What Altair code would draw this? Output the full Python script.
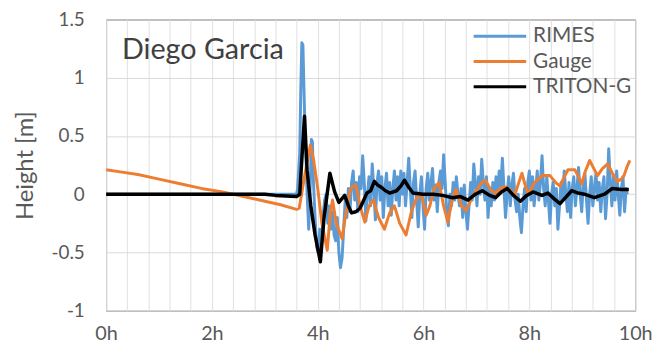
import altair as alt
import pandas as pd

# ---------------- data ----------------
series_names = ["RIMES", "Gauge", "TRITON-G"]
series_colors = ["#5B9BD5", "#ED7D31", "#000000"]
title_text = "Diego Garcia"

rimes_t = [0.0, 3.60, 3.62, 3.66, 3.68, 3.70, 3.72, 3.74, 3.76, 3.78, 3.80, 3.83, 3.86, 3.88, 3.90,
           3.92, 3.95, 3.98, 4.01, 4.04, 4.07, 4.10, 4.13, 4.16, 4.19, 4.22, 4.25, 4.28, 4.31,
           4.34, 4.37, 4.40, 4.43, 4.46, 4.49, 4.52, 4.55, 4.58, 4.61, 4.64, 4.67, 4.70, 4.73,
           4.76, 4.79, 4.82, 4.85, 4.88, 4.91, 4.94, 4.97, 5.00, 5.03, 5.06, 5.09, 5.12, 5.15,
           5.18, 5.21, 5.24, 5.27, 5.30, 5.33, 5.36, 5.39, 5.42, 5.45, 5.48, 5.51, 5.54, 5.57,
           5.60, 5.63, 5.66, 5.69, 5.72, 5.75, 5.78, 5.81, 5.84, 5.87, 5.90, 5.93, 5.96, 5.99,
           6.02, 6.05, 6.08, 6.11, 6.14, 6.17, 6.20, 6.23, 6.26, 6.29, 6.32, 6.35, 6.38, 6.41,
           6.44, 6.47, 6.50, 6.53, 6.56, 6.59, 6.62, 6.65, 6.68, 6.71, 6.74, 6.77, 6.80, 6.83,
           6.86, 6.89, 6.92, 6.95, 6.98, 7.01, 7.04, 7.07, 7.10, 7.13, 7.16, 7.19, 7.22, 7.25,
           7.28, 7.31, 7.34, 7.37, 7.40, 7.43, 7.46, 7.49, 7.52, 7.55, 7.58, 7.61, 7.64, 7.67,
           7.70, 7.73, 7.76, 7.79, 7.82, 7.85, 7.88, 7.91, 7.94, 7.97, 8.00, 8.03, 8.06, 8.09,
           8.12, 8.15, 8.18, 8.21, 8.24, 8.27, 8.30, 8.33, 8.36, 8.39, 8.42, 8.45, 8.48, 8.51,
           8.54, 8.57, 8.60, 8.63, 8.66, 8.69, 8.72, 8.75, 8.78, 8.81, 8.84, 8.87, 8.90, 8.93,
           8.96, 8.99, 9.02, 9.05, 9.08, 9.11, 9.14, 9.17, 9.20, 9.23, 9.26, 9.29, 9.32, 9.35,
           9.38, 9.41, 9.44, 9.47, 9.50, 9.53, 9.56, 9.59, 9.62, 9.65, 9.68, 9.71, 9.74, 9.77,
           9.80, 9.83, 9.85]
rimes_v = [0.0, 0.0, 0.05, 0.35, 0.90, 1.30, 1.28, 0.90, 0.55, 0.30, 0.0, -0.30, 0.10, 0.47, 0.45,
           0.10, -0.20, -0.45, -0.50, -0.30, -0.45, -0.20, -0.05, 0.0, -0.25, -0.10, -0.30, -0.15, -0.35,
           -0.40, -0.20, -0.50, -0.63, -0.55, -0.30, -0.05, -0.20, 0.05, -0.15, 0.10, 0.20, -0.05, 0.10,
           -0.15, 0.15, 0.05, 0.33, 0.10, -0.23, 0.0, 0.15, -0.10, 0.26, 0.05, -0.22, 0.10, 0.20,
           -0.05, 0.15, -0.20, 0.05, 0.18, -0.10, 0.10, -0.18, 0.05, 0.20, -0.05, 0.15, -0.10, 0.20,
           0.0, 0.18, -0.10, 0.10, 0.31, 0.05, -0.20, 0.10, 0.20, -0.05, -0.28, 0.0, 0.15, -0.10,
           -0.30, 0.05, 0.18, -0.05, 0.10, 0.22, -0.05, 0.08, -0.15, 0.10, 0.20, 0.05, 0.34, 0.10,
           -0.17, -0.27, 0.0, -0.10, 0.10, -0.05, 0.15, 0.0, -0.10, 0.05, -0.20, 0.08, -0.15, -0.30,
           -0.10, 0.10, -0.05, 0.26, 0.10, -0.10, 0.15, 0.0, 0.30, 0.10, -0.05, 0.15, -0.20, 0.05,
           -0.10, 0.10, -0.05, 0.15, 0.0, 0.20, 0.05, 0.31, 0.05, -0.20, 0.0, 0.15, -0.10, 0.08,
           0.18, -0.05, -0.15, 0.0, -0.20, -0.33, -0.10, 0.05, -0.15, 0.10, 0.20, -0.05, 0.15, -0.10,
           0.05, 0.20, -0.05, 0.10, 0.33, 0.05, -0.10, 0.15, -0.05, -0.25, 0.0, 0.10, -0.10, 0.05,
           -0.30, -0.10, 0.10, -0.05, 0.20, 0.0, -0.15, 0.10, -0.20, 0.05, 0.15, -0.10, 0.05, 0.23,
           0.0, -0.15, 0.10, 0.18, -0.05, -0.25, 0.0, 0.15, -0.10, 0.05, 0.18, -0.05, 0.10, -0.15,
           0.05, 0.15, -0.21, 0.0, 0.39, 0.10, -0.10, 0.15, -0.05, 0.20, 0.0, -0.18, 0.05, 0.15,
           -0.15, 0.05, 0.0]

gauge_t = [0.0, 0.3, 0.6, 1.0, 1.4, 1.8, 2.2, 2.6, 3.0, 3.3, 3.6, 3.65, 3.75, 3.86, 3.92, 4.0,
           4.08, 4.18, 4.24, 4.28, 4.35, 4.46, 4.52, 4.62, 4.72, 4.80, 4.89, 4.97, 5.05, 5.15,
           5.26, 5.36, 5.45, 5.55, 5.67, 5.77, 5.86, 5.96, 6.05, 6.12, 6.20, 6.29, 6.38, 6.46,
           6.54, 6.61, 6.72, 6.80, 6.95, 7.10, 7.17, 7.28, 7.36, 7.48, 7.58, 7.67, 7.73, 7.80,
           7.86, 7.92, 7.98, 8.10, 8.24, 8.39, 8.50, 8.58, 8.66, 8.73, 8.86, 8.93, 8.99, 9.06,
           9.14, 9.22, 9.29, 9.38, 9.48, 9.57, 9.66, 9.74, 9.79, 9.85, 9.90]
gauge_v = [0.21, 0.19, 0.17, 0.13, 0.09, 0.05, 0.02, -0.02, -0.06, -0.09, -0.13, -0.12, 0.15, 0.42, 0.30, 0.05,
           -0.25, -0.48, -0.15, -0.05, -0.25, -0.38, -0.20, 0.05, 0.08, -0.10, -0.24, -0.10, -0.05, -0.20,
           -0.30, -0.16, -0.10, -0.25, -0.35, -0.15, -0.04, 0.0, -0.18, -0.10, 0.05, 0.10, -0.10, -0.24,
           -0.05, 0.04, -0.10, -0.14, 0.0, 0.10, 0.12, 0.03, 0.01, 0.06, 0.06, 0.02, 0.0, 0.10,
           0.18, 0.08, 0.0, 0.10, 0.16, 0.16, 0.10, 0.07, 0.15, 0.21, 0.21, 0.15, 0.09, 0.20,
           0.29, 0.22, 0.16, 0.22, 0.26, 0.18, 0.11, 0.13, 0.16, 0.24, 0.29]

triton_t = [0.0, 3.0, 3.2, 3.6, 3.66, 3.70, 3.75, 3.80, 3.87, 3.95, 4.05, 4.12, 4.23, 4.32, 4.40,
            4.51, 4.58, 4.64, 4.72, 4.80, 4.88, 4.93, 5.00, 5.07, 5.13, 5.20, 5.28, 5.36, 5.49,
            5.57, 5.64, 5.72, 5.80, 5.99, 6.18, 6.36, 6.55, 6.70, 6.84, 6.98, 7.11, 7.25, 7.36,
            7.47, 7.58, 7.70, 7.83, 7.95, 8.07, 8.24, 8.35, 8.47, 8.58, 8.70, 8.80, 8.92, 9.04,
            9.23, 9.42, 9.57, 9.74, 9.88]
triton_v = [0.0, 0.0, -0.01, -0.02, 0.0, 0.30, 0.67, 0.20, -0.10, -0.35, -0.58, -0.20, 0.18, 0.02, -0.07,
            -0.01, -0.10, -0.16, -0.15, -0.12, -0.04, 0.01, 0.03, 0.11, 0.08, 0.06, 0.03, 0.01, 0.03,
            0.07, 0.12, 0.06, 0.01, 0.0, 0.0, -0.01, -0.03, -0.02, -0.05, 0.0, 0.03, -0.01, -0.03,
            0.02, 0.05, -0.01, -0.06, -0.01, 0.02, -0.01, 0.01, -0.04, -0.08, -0.02, 0.03, 0.01, 0.0,
            -0.03, 0.0, 0.05, 0.04, 0.04]

y_ticks = [-1, -0.5, 0, 0.5, 1, 1.5]
x_grid = [round(0.4 * i, 1) for i in range(26)]

FONT = "Lato"
TXT = "#595959"

# ---------------- chart ----------------
frames = [
    pd.DataFrame({"t": rimes_t, "v": rimes_v}),
    pd.DataFrame({"t": gauge_t, "v": gauge_v}),
    pd.DataFrame({"t": triton_t, "v": triton_v}),
]
widths = [3, 3, 3.5]

x_enc = alt.X(
    "t:Q",
    scale=alt.Scale(domain=[0, 10], nice=False, zero=False),
    axis=alt.Axis(
        values=x_grid, grid=True, gridColor="#E0E0E0", gridWidth=1,
        ticks=False, domain=False, labelOverlap=False, labelFlush=False,
        labelExpr="abs(datum.value % 2) < 0.01 ? format(datum.value, 'd') + 'h' : ''",
        labelPadding=13, labelFontSize=20, title=None,
    ),
)
y_enc = alt.Y(
    "v:Q",
    scale=alt.Scale(domain=[-1, 1.5], nice=False, zero=False),
    axis=alt.Axis(
        values=y_ticks, grid=True, gridColor="#D9D9D9", gridWidth=1,
        ticks=False, domain=False, labelExpr="toString(datum.value)",
        labelPadding=22, labelFontSize=19,
        title="Height [m]", titleX=-81, titleBaseline="middle",
    ),
)

layers = []
for df, name, col, w in zip(frames, series_names, series_colors, widths):
    layers.append(
        alt.Chart(df).mark_line(color=col, strokeWidth=w, strokeJoin="round", clip=True)
        .encode(x=x_enc, y=y_enc)
    )

# title inside the plot
title_layer = alt.Chart(pd.DataFrame({"label": [title_text]})).mark_text(
    align="left", baseline="alphabetic", font=FONT, fontSize=29, color="#404040"
).encode(text="label:N", x=alt.value(16), y=alt.value(40))
layers.append(title_layer)

# legend inside the plot (top right)
for i, (name, col, w) in enumerate(zip(series_names, series_colors, widths)):
    yy = 17 + 25.5 * i
    ldf = pd.DataFrame({"label": [name]})
    layers.append(
        alt.Chart(ldf).mark_rule(color=col, strokeWidth=3)
        .encode(x=alt.value(371), x2=alt.value(424), y=alt.value(yy))
    )
    layers.append(
        alt.Chart(ldf).mark_text(align="left", baseline="middle", font=FONT, fontSize=21, color=TXT)
        .encode(text="label:N", x=alt.value(431), y=alt.value(yy))
    )

chart = alt.layer(*layers).properties(
    width=534, height=294,
    autosize=alt.AutoSizeParams(type="none"),
    padding={"left": 99, "top": 10, "right": 17, "bottom": 33},
).configure_view(
    stroke="#505050", strokeWidth=1
).configure_axis(
    labelFont=FONT, labelColor=TXT,
    titleFont=FONT, titleFontSize=24, titleColor=TXT, titleFontWeight="normal",
)

chart.save("out.html", embed_options={"renderer": "svg", "actions": False})
